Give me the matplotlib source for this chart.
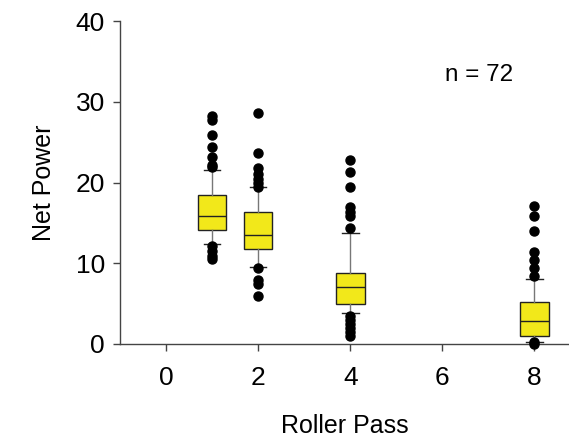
import matplotlib
matplotlib.use("Agg")
import matplotlib.pyplot as plt

plt.rcParams['font.family'] = ['Liberation Sans', 'DejaVu Sans']

passes = [1, 2, 4, 8]
q1 = [14.1, 11.8, 5.0, 1.0]
med = [15.8, 13.5, 7.1, 2.85]
q3 = [18.4, 16.3, 8.8, 5.2]
whislo = [12.4, 9.6, 3.8, 0.3]
whishi = [21.5, 19.4, 13.8, 8.1]
fliers = [
    [28.2, 27.8, 25.9, 24.4, 23.2, 22.2, 21.9, 12.1, 11.5, 10.9, 10.5],
    [28.6, 23.7, 21.8, 21.1, 20.5, 19.9, 19.5, 9.4, 7.9, 7.4, 5.9],
    [22.8, 21.3, 19.5, 17.0, 16.4, 15.8, 14.4, 3.5, 3.0, 2.5, 2.0, 1.5, 1.0],
    [17.1, 15.8, 14.0, 11.4, 10.4, 9.4, 8.4, 0.2, 0.0],
]
n_text = "n = 72"

stats = []
for i in range(len(passes)):
    stats.append(dict(q1=q1[i], med=med[i], q3=q3[i], whislo=whislo[i],
                      whishi=whishi[i], fliers=fliers[i]))

fig = plt.figure(figsize=(5.69, 4.41), dpi=100)
ax = fig.add_axes([0.211, 0.22, 0.789, 0.732])

ax.bxp(stats, positions=passes, widths=0.62, patch_artist=True,
       boxprops=dict(facecolor='#f2e81a', edgecolor='#222222', linewidth=1),
       medianprops=dict(color='#222222', linewidth=1),
       whiskerprops=dict(color='#777777', linewidth=1),
       capprops=dict(color='#222222', linewidth=1),
       capwidths=0.36,
       flierprops=dict(marker='o', markerfacecolor='black', markeredgecolor='black',
                       markersize=6.5, linestyle='none'),
       zorder=3)

ax.set_xlim(-1.0, 8.75)
ax.set_ylim(0, 40)
ax.set_xticks([0, 2, 4, 6, 8])
ax.set_xticklabels(['0', '2', '4', '6', '8'])
ax.set_yticks([0, 10, 20, 30, 40])

for s in ['top', 'right']:
    ax.spines[s].set_visible(False)
for s in ['left', 'bottom']:
    ax.spines[s].set_color('#444444')
    ax.spines[s].set_linewidth(1)

ax.tick_params(axis='both', direction='out', length=5, width=1, color='#444444',
               labelsize=19, pad=6)
ax.tick_params(axis='x', pad=11)

ax.set_ylabel('Net Power', fontsize=18, labelpad=14)
ax.set_xlabel('Roller Pass', fontsize=18, labelpad=17)

ax.text(6.8, 33.3, n_text, fontsize=17.5, ha='center', va='center')

for a in ax.get_children():
    try:
        a.set_clip_on(False)
    except Exception:
        pass

fig.savefig('out.png', dpi=100)
